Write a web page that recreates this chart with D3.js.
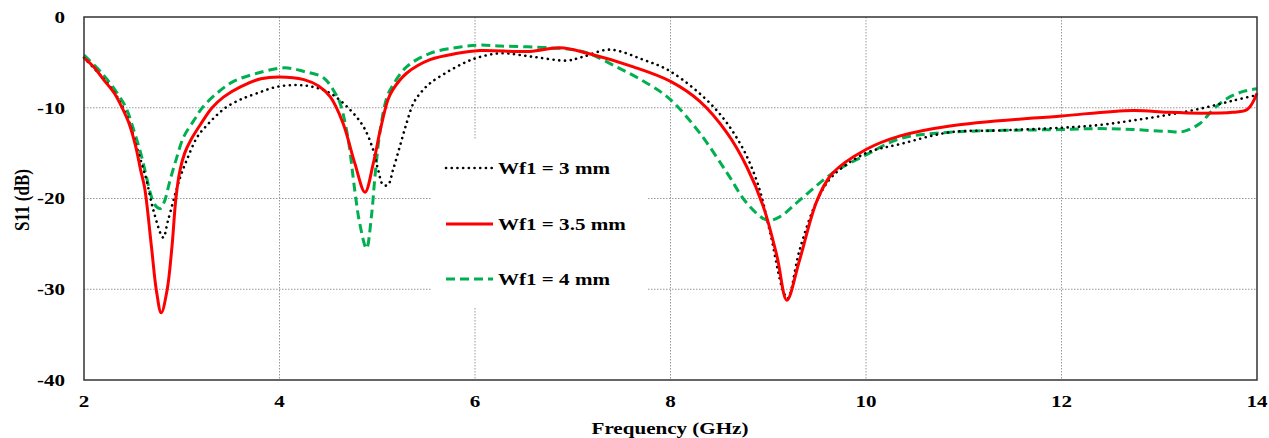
<!DOCTYPE html>
<html><head><meta charset="utf-8">
<script src="https://cdn.jsdelivr.net/npm/d3@7"></script>
<style>body{margin:0;background:#fff}text{font-family:"Liberation Serif","Times New Roman",serif;font-weight:bold;fill:#000}</style>
</head><body><svg id="c" width="1269" height="438"></svg>
<script>
const xTicks = [2,4,6,8,10,12,14];
const yTicks = [0,-10,-20,-30,-40];
const seriesNames = ["Wf1 = 3 mm","Wf1 = 3.5 mm","Wf1 = 4 mm"];

const freq3 = [2.0,2.2,2.31,2.39,2.46,2.53,2.6,2.64,2.71,2.81,2.86,2.98,3.05,3.16,3.26,3.36,3.46,3.6,3.77,3.97,4.18,4.34,4.52,4.72,4.86,4.96,5.01,5.06,5.11,5.16,5.23,5.3,5.37,5.44,5.54,5.71,5.88,6.02,6.26,6.6,6.94,7.1,7.38,7.72,8.0,8.44,8.71,8.89,9.02,9.15,9.2,9.32,9.5,9.66,10.0,10.35,10.86,11.37,12.0,12.39,12.73,13.08,13.42,13.76,14.0];
const s11_3 = [-4.5,-6.8,-8.3,-9.8,-11.5,-14.0,-16.5,-18.0,-21.3,-24.3,-22.4,-17.8,-15.8,-13.2,-11.9,-10.8,-9.9,-9.1,-8.4,-7.7,-7.5,-7.7,-8.4,-10.2,-12.1,-14.7,-16.9,-18.5,-18.5,-16.9,-14.3,-11.7,-9.5,-8.4,-7.3,-6.1,-5.1,-4.5,-4.0,-4.4,-4.8,-4.4,-3.6,-4.7,-6.0,-9.9,-13.9,-18.3,-23.8,-30.1,-31.0,-25.7,-20.2,-17.5,-15.0,-14.0,-12.7,-12.5,-12.2,-11.9,-11.4,-10.8,-10.1,-9.2,-8.6];

const freq35 = [2.0,2.1,2.2,2.31,2.39,2.46,2.53,2.58,2.62,2.69,2.74,2.79,2.85,2.9,2.94,2.98,3.03,3.09,3.2,3.31,3.43,3.6,3.81,4.0,4.25,4.4,4.52,4.65,4.77,4.875,4.96,5.03,5.11,5.16,5.3,5.54,5.82,6.05,6.56,6.87,7.15,7.62,8.0,8.3,8.58,8.78,8.95,9.09,9.19,9.32,9.5,9.66,10.0,10.35,10.86,12.0,12.73,13.08,13.42,13.75,13.9,14.0];
const s11_35 = [-4.5,-5.5,-6.9,-8.4,-10.0,-11.7,-14.3,-16.9,-18.8,-25.3,-30.1,-32.6,-30.1,-25.3,-20.0,-17.0,-15.0,-13.6,-11.7,-10.0,-8.8,-7.7,-6.8,-6.6,-6.9,-7.6,-8.8,-11.7,-16.1,-19.3,-16.1,-12.5,-9.1,-8.0,-6.2,-4.7,-4.0,-3.7,-3.8,-3.4,-4.0,-5.5,-7.1,-9.3,-12.8,-16.5,-20.9,-26.4,-31.2,-26.8,-20.2,-17.2,-14.6,-13.1,-12.0,-10.9,-10.3,-10.5,-10.6,-10.5,-10.2,-8.4];

const freq4 = [2.0,2.2,2.34,2.43,2.51,2.58,2.63,2.69,2.74,2.78,2.82,2.88,2.94,3.02,3.13,3.21,3.36,3.53,3.77,4.05,4.25,4.45,4.57,4.62,4.7,4.77,4.82,4.89,4.94,4.98,5.03,5.1,5.16,5.3,5.54,5.85,6.05,6.26,6.77,7.1,7.45,7.79,8.0,8.3,8.58,8.78,8.99,9.12,9.32,9.66,10.0,10.35,10.86,12.0,12.39,12.73,13.08,13.25,13.42,13.55,13.69,13.86,14.0];
const s11_4 = [-4.2,-6.4,-8.4,-10.0,-12.5,-15.0,-17.2,-19.8,-20.9,-21.1,-20.4,-18.0,-15.8,-13.2,-11.3,-10.0,-8.4,-7.1,-6.2,-5.6,-6.0,-6.7,-8.4,-9.5,-13.3,-19.1,-22.7,-25.5,-22.0,-17.2,-12.5,-8.8,-7.5,-5.5,-4.0,-3.3,-3.1,-3.2,-3.4,-3.8,-5.5,-7.5,-9.1,-12.8,-17.2,-20.5,-22.4,-22.0,-20.2,-17.2,-15.2,-13.4,-12.7,-12.4,-12.3,-12.4,-12.6,-12.6,-11.7,-10.2,-9.0,-8.2,-7.9];

const svg = d3.select("#c");
const L=84,R=1257,T=17,B=380, SX=1.24;
const x = d3.scaleLinear().domain([2,14]).range([L,R]);
const y = d3.scaleLinear().domain([-40,0]).range([B,T]);

const g = svg.append("g");
g.selectAll(".vx").data(xTicks.filter(d=>d>2&&d<14)).join("line")
  .attr("x1",d=>x(d)).attr("x2",d=>x(d)).attr("y1",T).attr("y2",B)
  .attr("stroke","#999").attr("stroke-width",1).attr("stroke-dasharray","1.5,1.5");
g.selectAll(".hy").data(yTicks.filter(d=>d<0&&d>-40)).join("line")
  .attr("x1",L).attr("x2",R).attr("y1",d=>y(d)).attr("y2",d=>y(d))
  .attr("stroke","#999").attr("stroke-width",1).attr("stroke-dasharray","1.5,1.5");

svg.append("rect").attr("x",432).attr("y",140).attr("width",215).attr("height",168).attr("fill","#fff");

const line = d3.line().x(d=>x(d[0])).y(d=>y(d[1])).curve(d3.curveCatmullRom.alpha(0.5));
const styles = [
  {f:freq3,v:s11_3,c:"#000",w:2.6,dash:"0.1,5.6",cap:"round"},
  {f:freq35,v:s11_35,c:"#ff0000",w:3,dash:null,cap:"butt"},
  {f:freq4,v:s11_4,c:"#00b050",w:3,dash:"9,5",cap:"butt"}
];
[2,0,1].forEach(i=>{
  const s=styles[i];
  svg.append("path").datum(s.f.map((f,k)=>[f,s.v[k]]))
    .attr("d",line).attr("fill","none").attr("stroke",s.c).attr("stroke-width",s.w)
    .attr("stroke-dasharray",s.dash).attr("stroke-linecap",s.cap).attr("stroke-linejoin","round");
});

svg.append("rect").attr("x",L).attr("y",T).attr("width",R-L).attr("height",B-T)
  .attr("fill","none").attr("stroke","#333").attr("stroke-width",1.5);

const legY=[168,224,279];
styles.forEach((s,i)=>{
  svg.append("line").attr("x1",446).attr("x2",493).attr("y1",legY[i]).attr("y2",legY[i])
    .attr("stroke",s.c).attr("stroke-width",s.w).attr("stroke-dasharray",s.dash).attr("stroke-linecap",s.cap);
  svg.append("text").attr("transform",`translate(498,${legY[i]}) scale(${SX},1)`)
    .attr("dy","0.35em").attr("font-size",17).text(seriesNames[i]);
});

svg.selectAll(".yt").data(yTicks).join("text")
  .attr("transform",d=>`translate(65,${y(d)}) scale(${SX},1)`)
  .attr("text-anchor","end").attr("dy","0.35em").attr("font-size",17).text(d=>d);
svg.selectAll(".xt").data(xTicks).join("text")
  .attr("transform",d=>`translate(${x(d)},401) scale(${SX},1)`)
  .attr("text-anchor","middle").attr("dy","0.35em").attr("font-size",17).text(d=>d);
svg.append("text").attr("transform",`translate(670,428) scale(${SX},1)`)
  .attr("text-anchor","middle").attr("dy","0.35em").attr("font-size",17).text("Frequency (GHz)");
svg.append("text").attr("transform",`translate(22,200) scale(${SX},1) rotate(-90)`)
  .attr("text-anchor","middle").attr("dy","0.35em").attr("font-size",17).text("S11 (dB)");
</script></body></html>
